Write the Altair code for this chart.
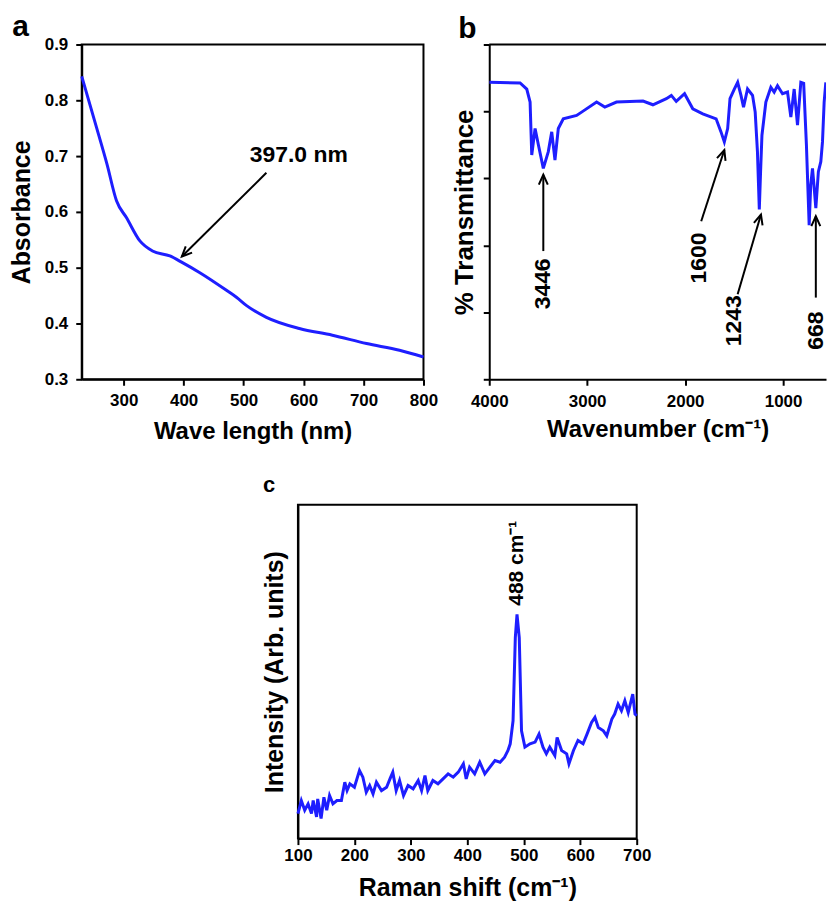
import altair as alt
import pandas as pd

BLUE = "#1e1eff"
FONT = "Liberation Sans"

# ---------------- Panel a: UV-Vis ----------------
uv_wavelength = [230, 255, 272, 288, 305, 327, 348, 377, 398, 427, 472, 488, 505, 538, 593, 648, 705, 760, 800]
uv_absorbance = [0.843, 0.75, 0.686, 0.62, 0.589, 0.548, 0.530, 0.521, 0.509, 0.491, 0.459, 0.447, 0.432,
                 0.411, 0.391, 0.379, 0.364, 0.352, 0.340]
uv_label = ["397.0 nm"]
uv_label_x = [592]
uv_label_y = [0.702]
uv_arrow_tail_x = [538]
uv_arrow_tail_y = [0.670]
uv_arrow_head_x = [397]
uv_arrow_head_y = [0.520]
uv_arrow_angle = [225]

# ---------------- Panel b: FTIR ----------------
ir_wavenumber = [4000, 3685, 3617, 3583, 3566, 3532, 3498, 3448, 3397, 3362, 3329, 3295, 3244, 3108, 3057, 2904,
                 2820, 2701, 2430, 2329, 2192, 2141, 2091, 2006, 1922, 1820, 1684, 1634, 1600, 1566, 1542, 1498,
                 1464, 1430, 1404, 1363, 1312, 1285, 1262, 1243, 1230, 1216, 1176, 1125, 1091, 1057, 1006, 955,
                 921, 887, 853, 819, 790, 762, 734, 718, 700, 685, 666, 640, 615, 598, 581, 564]
ir_transmittance = [88.7, 88.5, 86.7, 82.8, 67.0, 74.9, 70.0, 63.0, 68.0, 73.9, 65.5, 74.9, 77.8, 78.8, 79.8, 82.8,
                    81.3, 82.8, 83.1, 82.0, 83.8, 84.8, 83.0, 85.3, 80.8, 79.3, 77.8, 73.9, 70.9, 74.9, 83.8, 86.7,
                    88.7, 84.8, 81.3, 86.7, 84.8, 79.8, 68.0, 50.7, 62.0, 72.9, 82.8, 87.2, 85.8, 87.7, 85.3, 85.8,
                    78.3, 86.7, 75.9, 88.7, 88.4, 70.0, 46.0, 58.0, 63.0, 58.0, 51.1, 62.0, 65.0, 70.9, 82.8, 88.7]
ir_label = ["3446", "1600", "1243", "668"]
ir_label_x = [3448, 1854, 1497, 666]
ir_label_y = [28.5, 36.2, 17.5, 14.5]
ir_arrow_tail_x = [3448, 1836, 1464, 666]
ir_arrow_tail_y = [38.3, 47.2, 25.4, 24.4]
ir_arrow_head_x = [3448, 1600, 1226, 666]
ir_arrow_head_y = [61.1, 68.5, 49.2, 48.7]
ir_arrow_angle = [0, 18, 16, 0]
ir_x_domain = [4000, 562]

# ---------------- Panel c: Raman ----------------
raman_shift = [100, 106, 112, 118, 124, 127, 133, 135, 141, 146, 151, 156, 162, 169, 177, 183, 187, 192, 200, 209,
               215, 221, 227, 233, 239, 248, 257, 263, 268, 274, 280, 287, 295, 304, 313, 319, 325, 330, 339, 348,
               357, 366, 375, 384, 393, 398, 404, 413, 422, 431, 440, 449, 458, 466, 472, 476, 481, 485, 488, 492,
               496, 502, 511, 520, 527, 534, 540, 546, 555, 559, 567, 576, 580, 588, 596, 605, 612, 620, 626, 632,
               641, 647, 656, 661, 667, 673, 679, 685, 693, 697, 700]
raman_intensity = [7.5, 11.4, 8.5, 10.4, 7.5, 11.4, 6.5, 11.9, 6.0, 12.4, 8.5, 12.9, 10.4, 11.4, 11.4, 16.9, 14.4,
                   16.4, 15.4, 20.4, 18.4, 13.9, 15.9, 13.4, 16.9, 14.4, 15.4, 17.9, 19.9, 14.4, 17.4, 12.9, 15.9,
                   14.9, 17.4, 14.4, 18.9, 14.4, 17.4, 16.4, 17.9, 19.4, 18.4, 19.9, 22.4, 17.9, 21.4, 19.4, 22.9,
                   19.4, 21.4, 23.4, 22.9, 24.4, 26.4, 28.4, 35.3, 60.2, 67.2, 60.2, 32.3, 27.4, 28.4, 28.9, 31.3,
                   27.4, 25.4, 27.4, 24.9, 30.3, 26.4, 25.4, 22.4, 26.4, 29.4, 28.4, 31.3, 34.8, 36.3, 33.3, 32.3,
                   30.8, 35.8, 37.3, 40.3, 38.3, 41.3, 37.8, 43.3, 37.3, 36.8]
raman_label = ["488 cm\u207b\u00b9"]
raman_label_x = [488]
raman_label_y = [82.5]

ARROW = "M-0.45,1L0,0L0.45,1"


def panel_title(letter, size, offset, dx):
    return alt.TitleParams(letter, anchor="start", frame="bounds", fontSize=size, font=FONT,
                           fontWeight="bold", color="black", offset=offset, baseline="top", dx=dx)


def arrows(df, xs, ys):
    rule = alt.Chart(df).mark_rule(color="black", strokeWidth=2).encode(
        x=alt.X("tx:Q", scale=xs[0], axis=xs[1]), y=alt.Y("ty:Q", scale=ys[0], axis=ys[1]),
        x2="hx:Q", y2="hy:Q")
    head = alt.Chart(df).mark_point(shape=ARROW, size=400, filled=False, strokeWidth=2, color="black",
                                    opacity=1).encode(
        x=alt.X("hx:Q", scale=xs[0], axis=xs[1]), y=alt.Y("hy:Q", scale=ys[0], axis=ys[1]),
        angle=alt.Angle("ang:Q", scale=None))
    return rule + head


# ----- chart a -----
sxa = alt.Scale(domain=[230, 800], nice=False, zero=False)
axa = alt.Axis(values=[300, 400, 500, 600, 700, 800], title="Wave length (nm)", titleFontSize=24,
               labelPadding=7, titlePadding=11)
sya = alt.Scale(domain=[0.3, 0.9], nice=False, zero=False)
aya = alt.Axis(values=[0.3, 0.4, 0.5, 0.6, 0.7, 0.8, 0.9], format=".1f", title="Absorbance", titleFontSize=25,
               titlePadding=10, labelPadding=8)
df_a = pd.DataFrame({"x": uv_wavelength, "y": uv_absorbance})
line_a = alt.Chart(df_a).mark_line(color=BLUE, strokeWidth=3, interpolate="monotone").encode(
    x=alt.X("x:Q", scale=sxa, axis=axa), y=alt.Y("y:Q", scale=sya, axis=aya))
df_a_lab = pd.DataFrame({"t": uv_label, "lx": uv_label_x, "ly": uv_label_y})
text_a = alt.Chart(df_a_lab).mark_text(font=FONT, fontSize=23, fontWeight="bold", color="black",
                                       baseline="middle", align="center").encode(
    x=alt.X("lx:Q", scale=sxa, axis=axa), y=alt.Y("ly:Q", scale=sya, axis=aya), text="t:N")
df_a_arr = pd.DataFrame({"tx": uv_arrow_tail_x, "ty": uv_arrow_tail_y, "hx": uv_arrow_head_x,
                         "hy": uv_arrow_head_y, "ang": uv_arrow_angle})
chart_a = alt.layer(line_a, arrows(df_a_arr, (sxa, axa), (sya, aya)), text_a).properties(
    width=343, height=336, title=panel_title("a", 30, -6.5, 3))

# ----- chart b -----
sxb = alt.Scale(domain=ir_x_domain, nice=False, zero=False)
axb = alt.Axis(values=[4000, 3000, 2000, 1000], format="d", title="Wavenumber (cm\u207b\u00b9)", titleFontSize=24,
               labelPadding=8, titlePadding=8)
syb = alt.Scale(domain=[0, 100], nice=False, zero=False)
ayb = alt.Axis(values=[0, 20, 40, 60, 80, 100], labels=False, title="% Transmittance", titleFontSize=26,
               titlePadding=5)
df_b = pd.DataFrame({"x": ir_wavenumber, "y": ir_transmittance})
line_b = alt.Chart(df_b).mark_line(color=BLUE, strokeWidth=3, clip=True).encode(
    x=alt.X("x:Q", scale=sxb, axis=axb), y=alt.Y("y:Q", scale=syb, axis=ayb))
df_b_top = pd.DataFrame({"x1": [ir_x_domain[0]], "x2": [ir_x_domain[1]], "y": [100]})
top_b = alt.Chart(df_b_top).mark_rule(color="black", strokeWidth=2).encode(
    x=alt.X("x1:Q", scale=sxb, axis=axb), x2="x2:Q", y=alt.Y("y:Q", scale=syb, axis=ayb))
df_b_lab = pd.DataFrame({"t": ir_label, "lx": ir_label_x, "ly": ir_label_y})
text_b = alt.Chart(df_b_lab).mark_text(font=FONT, fontSize=23, fontWeight="bold", color="black", angle=270,
                                       baseline="middle", align="center").encode(
    x=alt.X("lx:Q", scale=sxb, axis=axb), y=alt.Y("ly:Q", scale=syb, axis=ayb), text="t:N")
df_b_arr = pd.DataFrame({"tx": ir_arrow_tail_x, "ty": ir_arrow_tail_y, "hx": ir_arrow_head_x,
                         "hy": ir_arrow_head_y, "ang": ir_arrow_angle})
chart_b = alt.layer(top_b, line_b, arrows(df_b_arr, (sxb, axb), (syb, ayb)), text_b).properties(
    width=338, height=336, title=panel_title("b", 30, 0, 7), view=alt.ViewBackground(stroke="transparent"))

# ----- chart c -----
sxc = alt.Scale(domain=[100, 700], nice=False, zero=False)
axc = alt.Axis(values=[100, 200, 300, 400, 500, 600, 700], title="Raman shift (cm\u207b\u00b9)", titleFontSize=25,
               labelPadding=3, titlePadding=12)
syc = alt.Scale(domain=[0, 100], nice=False, zero=False)
ayc = alt.Axis(labels=False, ticks=False, title="Intensity (Arb. units)", titleFontSize=25, titlePadding=10)
df_c = pd.DataFrame({"x": raman_shift, "y": raman_intensity})
line_c = alt.Chart(df_c).mark_line(color=BLUE, strokeWidth=3).encode(
    x=alt.X("x:Q", scale=sxc, axis=axc), y=alt.Y("y:Q", scale=syc, axis=ayc))
df_c_lab = pd.DataFrame({"t": raman_label, "lx": raman_label_x, "ly": raman_label_y})
text_c = alt.Chart(df_c_lab).mark_text(font=FONT, fontSize=21, fontWeight="bold", color="black", angle=270,
                                       baseline="middle", align="center").encode(
    x=alt.X("lx:Q", scale=sxc, axis=axc), y=alt.Y("ly:Q", scale=syc, axis=ayc), text="t:N")
chart_c = alt.layer(line_c, text_c).properties(width=340, height=335, title=panel_title("c", 22, 7.4, 0))

spacer = alt.Chart(pd.DataFrame({"s": [0]})).mark_point(opacity=0).encode(
    x=alt.X("s:Q", axis=None), y=alt.Y("s:Q", axis=None)).properties(
    width=180, height=1, view=alt.ViewBackground(stroke="transparent"))

row1 = alt.hconcat(chart_a, chart_b, spacing=11)
row2 = alt.hconcat(spacer, chart_c, spacing=0)

chart = alt.vconcat(row1, row2, spacing=29).properties(
    padding={"left": 0, "top": 1, "right": 0, "bottom": 0}).configure_view(
    stroke="black", strokeWidth=2).configure_axis(
    domainColor="black", domainWidth=2, tickColor="black", tickWidth=2, tickSize=6, grid=False,
    labelFont=FONT, labelFontSize=17, labelFontWeight="bold", labelColor="black", labelFlush=False,
    titleFont=FONT, titleFontWeight="bold", titleColor="black")

chart.save("out.html", embed_options={"renderer": "svg", "actions": False})
